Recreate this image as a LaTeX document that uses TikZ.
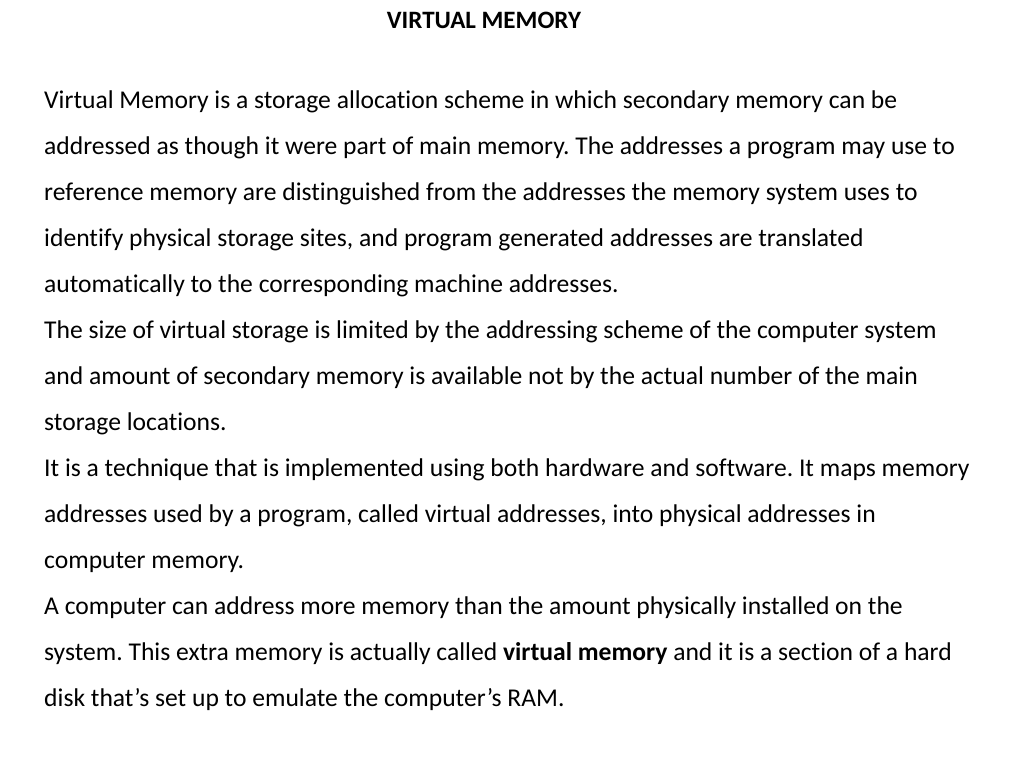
\documentclass[tikz,border=0pt]{standalone}
\usepackage{fontspec}
\setmainfont[RawFeature={-liga}]{Carlito}
\begin{document}
\frenchspacing
\begin{tikzpicture}[x=1pt,y=-1pt,
  ln/.style={anchor=base west,inner sep=0pt,font=\fontsize{25.6}{28}\selectfont}]
\useasboundingbox (0,0) rectangle (1024,768);
\node[anchor=base,inner sep=0pt,font=\fontsize{25}{28}\selectfont\bfseries] (t) at (484,29) {VIRTUAL MEMORY};
\node[ln] (l1) at (44,108) {Virtual Memory is a storage allocation scheme in which secondary memory can be};
\node[ln] (l2) at (44,154) {addressed as though it were part of main memory. The addresses a program may use to};
\node[ln] (l3) at (44,200) {reference memory are distinguished from the addresses the memory system uses to};
\node[ln] (l4) at (44,246) {identify physical storage sites, and program generated addresses are translated};
\node[ln] (l5) at (44,292) {automatically to the corresponding machine addresses.};
\node[ln] (l6) at (44,338) {The size of virtual storage is limited by the addressing scheme of the computer system};
\node[ln] (l7) at (44,384) {and amount of secondary memory is available not by the actual number of the main};
\node[ln] (l8) at (44,430) {storage locations.};
\node[ln] (l9) at (44,476) {It is a technique that is implemented using both hardware and software. It maps memory};
\node[ln] (l10) at (44,522) {addresses used by a program, called virtual addresses, into physical addresses in};
\node[ln] (l11) at (44,568) {computer memory.};
\node[ln] (l12) at (44,614) {A computer can address more memory than the amount physically installed on the};
\node[ln] (l13) at (44,660) {system. This extra memory is actually called \textbf{virtual memory} and it is a section of a hard};
\node[ln] (l14) at (44,706) {disk that\char39 s set up to emulate the computer\char39 s RAM.};
\end{tikzpicture}
\end{document}
